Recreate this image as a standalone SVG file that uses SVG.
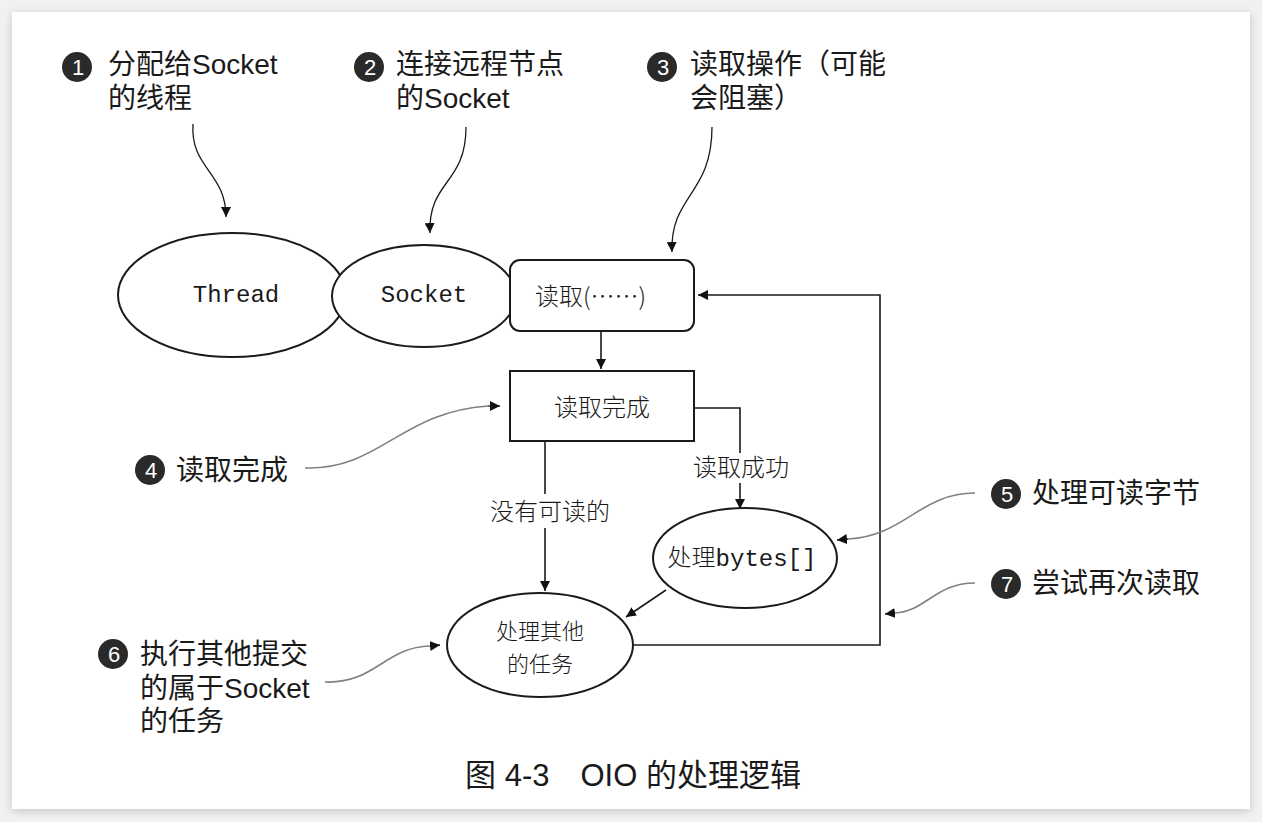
<svg xmlns="http://www.w3.org/2000/svg" width="1262" height="822" viewBox="0 0 1262 822">
<defs>
<filter id="sh" x="-5%" y="-5%" width="110%" height="110%"><feGaussianBlur stdDeviation="5"/></filter>
<marker id="ah" viewBox="0 0 10 10" refX="10" refY="5" markerWidth="10" markerHeight="10" markerUnits="userSpaceOnUse" orient="auto"><path d="M0,0 L10,5 L0,10 Z" fill="#111"/></marker>
<style>
.shape{fill:#fff;stroke:#1a1a1a;stroke-width:2}
.line{fill:none;stroke:#1a1a1a;stroke-width:1.6}
.call{fill:none;stroke:#1a1a1a;stroke-width:1.3}
.callg{fill:none;stroke:#808080;stroke-width:1.6}
.ann{font-family:"Liberation Sans","Noto Sans CJK SC",sans-serif;font-size:28px;fill:#1a1a1a}
.node{font-family:"Noto Sans CJK SC",sans-serif;font-size:24px;fill:#1a1a1a;font-weight:300}
.node2{font-family:"Noto Sans CJK SC",sans-serif;font-size:22px;fill:#1a1a1a;font-weight:300}
.mono{font-family:"Liberation Mono","Noto Sans CJK SC",monospace;font-size:24px;fill:#1a1a1a}
.lbl{font-family:"Noto Sans CJK SC",sans-serif;font-size:24px;fill:#1a1a1a;font-weight:300}
.num{font-family:"Liberation Sans",sans-serif;font-size:22px;fill:#fff;text-anchor:middle}
.badge{fill:#2a2a2a}
</style>
</defs>
<rect width="1262" height="822" fill="#f1f1f1"/>
<rect x="12" y="14" width="1238" height="797" fill="#000" opacity="0.18" filter="url(#sh)"/>
<rect x="12" y="12" width="1238" height="797" fill="#fff"/>

<g id="connectors">
<path class="line" d="M601,331 L601,369" marker-end="url(#ah)"/>
<path class="line" d="M694,408 L740,408 L740,453"/>
<path class="line" d="M740,483 L740,509" marker-end="url(#ah)"/>
<path class="line" d="M545,441 L545,494"/>
<path class="line" d="M545,528 L545,591" marker-end="url(#ah)"/>
<path class="line" d="M666,590 L626,617" marker-end="url(#ah)"/>
<path class="line" d="M634,645 L880,645 L880,295 L698,295" marker-end="url(#ah)"/>
</g>

<g id="node-thread">
<ellipse class="shape" cx="232" cy="295" rx="114" ry="62"/>
<text class="mono" x="236" y="302" text-anchor="middle">Thread</text>
</g>
<g id="node-socket">
<ellipse class="shape" cx="424" cy="296" rx="92" ry="51"/>
<text class="mono" x="424" y="302" text-anchor="middle">Socket</text>
</g>
<g id="node-read">
<rect class="shape" x="510" y="260" width="184" height="71" rx="10"/>
<text class="node" x="535" y="305">读取(……)</text>
</g>
<g id="node-readdone">
<rect class="shape" x="510" y="371" width="184" height="70"/>
<text class="node" x="602" y="416" text-anchor="middle">读取完成</text>
</g>
<g id="node-bytes">
<ellipse class="shape" cx="745" cy="558" rx="92" ry="50"/>
<text x="742" y="566" text-anchor="middle"><tspan class="node">处理</tspan><tspan class="mono">bytes[]</tspan></text>
</g>
<g id="node-other">
<ellipse class="shape" cx="540" cy="645" rx="93" ry="52"/>
<text class="node2" x="540" y="639" text-anchor="middle">处理其他</text>
<text class="node2" x="540" y="672" text-anchor="middle">的任务</text>
</g>

<g id="label-none">
<text class="lbl" x="550" y="520" text-anchor="middle">没有可读的</text>
</g>
<g id="label-success">
<text class="lbl" x="741" y="476" text-anchor="middle">读取成功</text>
</g>

<g id="callout-1">
<circle class="badge" cx="77" cy="67" r="15"/>
<text class="num" x="78" y="75">1</text>
<text class="ann" x="108" y="74">分配给Socket</text>
<text class="ann" x="108" y="108">的线程</text>
<path class="call" d="M193,124 C190,168 226,172 226,217" marker-end="url(#ah)"/>
</g>
<g id="callout-2">
<circle class="badge" cx="369" cy="67" r="15"/>
<text class="num" x="370" y="75">2</text>
<text class="ann" x="396" y="74">连接远程节点</text>
<text class="ann" x="396" y="108">的Socket</text>
<path class="call" d="M466,127 C466,185 428,180 430,233" marker-end="url(#ah)"/>
</g>
<g id="callout-3">
<circle class="badge" cx="662" cy="67" r="15"/>
<text class="num" x="663" y="75">3</text>
<text class="ann" x="690" y="74">读取操作（可能</text>
<text class="ann" x="690" y="108">会阻塞）</text>
<path class="call" d="M712,127 C712,195 670,195 672,252" marker-end="url(#ah)"/>
</g>
<g id="callout-4">
<circle class="badge" cx="150" cy="470" r="15"/>
<text class="num" x="151" y="478">4</text>
<text class="ann" x="176" y="480">读取完成</text>
<path class="callg" d="M305,468 C380,470 400,412 488,406"/>
<path class="call" d="M488,406 L500,406" marker-end="url(#ah)"/>
</g>
<g id="callout-5">
<circle class="badge" cx="1006" cy="494" r="15"/>
<text class="num" x="1007" y="502">5</text>
<text class="ann" x="1032" y="503">处理可读字节</text>
<path class="callg" d="M975,493 C920,493 905,536 848,539"/>
<path class="call" d="M848,539 L837,540" marker-end="url(#ah)"/>
</g>
<g id="callout-6">
<circle class="badge" cx="113" cy="654" r="15"/>
<text class="num" x="114" y="662">6</text>
<text class="ann" x="140" y="664">执行其他提交</text>
<text class="ann" x="140" y="698">的属于Socket</text>
<text class="ann" x="140" y="731">的任务</text>
<path class="callg" d="M325,682 C375,684 385,647 430,646"/>
<path class="call" d="M430,646 L440,645" marker-end="url(#ah)"/>
</g>
<g id="callout-7">
<circle class="badge" cx="1006" cy="584" r="15"/>
<text class="num" x="1007" y="592">7</text>
<text class="ann" x="1032" y="593">尝试再次读取</text>
<path class="callg" d="M975,583 C935,583 925,612 895,613"/>
<path class="call" d="M895,613 L885,614" marker-end="url(#ah)"/>
</g>

<g id="caption">
<text class="ann" x="633" y="786" text-anchor="middle" style="font-size:31px">图 4-3　OIO 的处理逻辑</text>
</g>
</svg>
